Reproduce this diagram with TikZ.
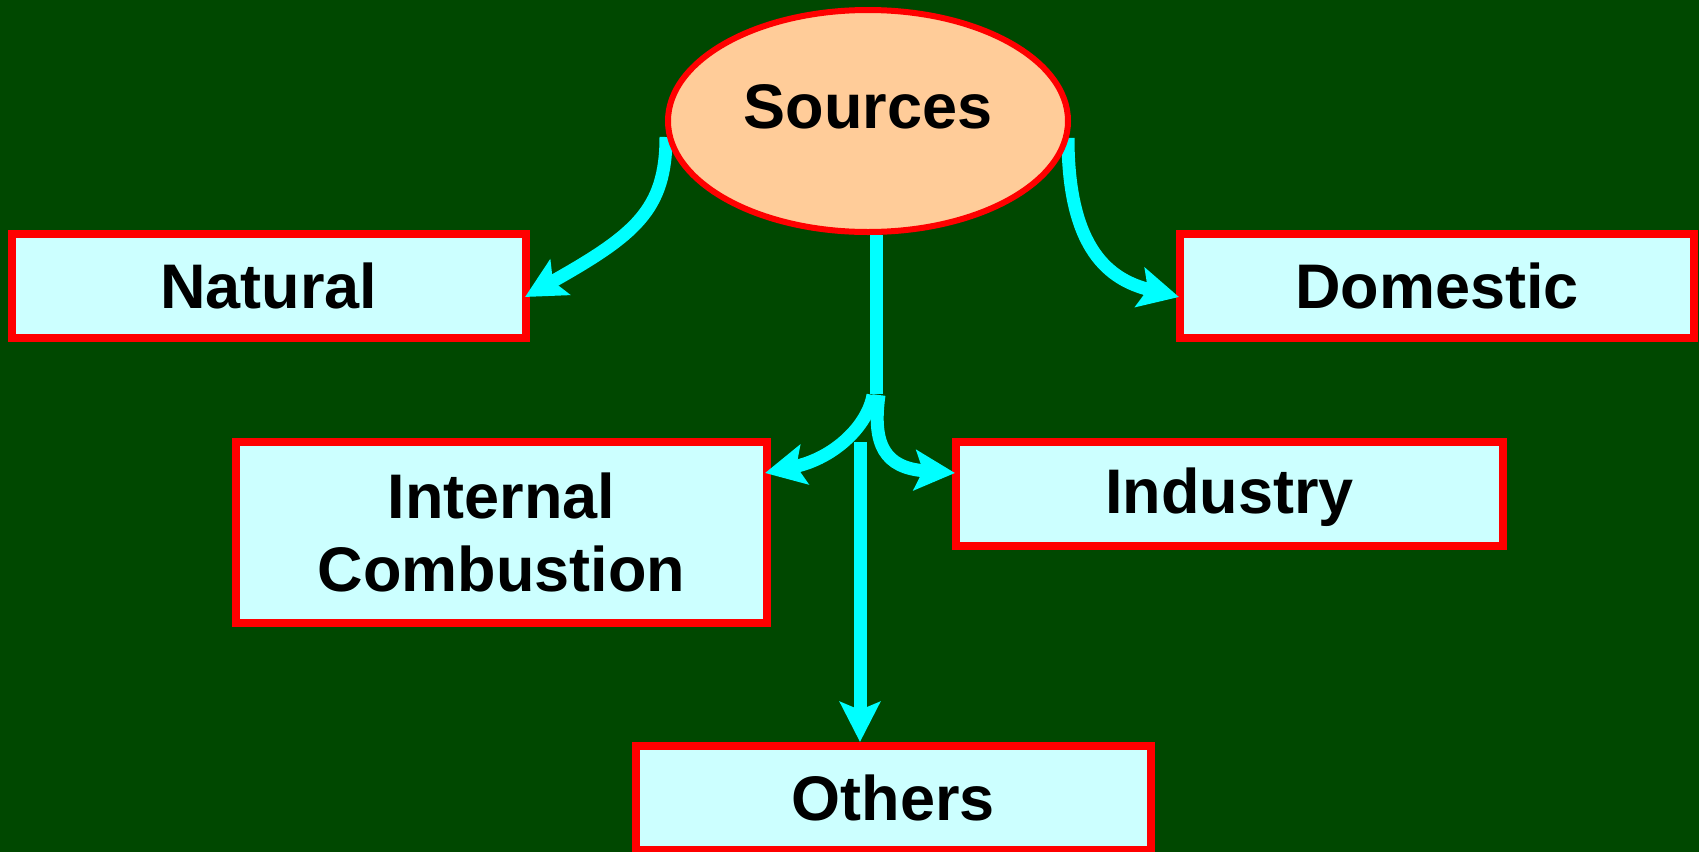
\documentclass[tikz,border=0pt]{standalone}
\usepackage{fontspec}
\setmainfont{Liberation Sans}
\usetikzlibrary{shapes.geometric,arrows.meta,calc}
\definecolor{board}{RGB}{0,72,0}
\definecolor{boxfill}{RGB}{204,255,255}
\definecolor{ovalfill}{RGB}{255,204,153}
\definecolor{flow}{RGB}{0,255,255}
\pgfdeclarelayer{bg}
\pgfdeclarelayer{front}
\pgfsetlayers{bg,main,front}
\begin{document}
\begin{tikzpicture}[x=0.5pt,y=-0.5pt,
  every node/.style={font=\fontsize{31.5}{36.5}\selectfont\bfseries, text=black},
  srcbox/.style={draw=red, line width=4pt, fill=boxfill, inner sep=0pt, align=center},
  oval/.style={ellipse, draw=red, line width=3pt, fill=ovalfill, inner sep=0pt,
    minimum width=200pt, minimum height=111pt},
  flowline/.style={draw=flow, line width=6.5pt},
  flowarrow/.style={flowline, -{Stealth[length=20pt,width=20pt,inset=4pt]}}]
  \begin{pgfonlayer}{bg}
    \fill[board] (0,0) rectangle (1699,852);
  \end{pgfonlayer}
  \useasboundingbox (0,0) rectangle (1699,852);

  % central oval, kept above the connectors
  \begin{pgfonlayer}{front}
    \node[oval] (src) at (868,121) {\raisebox{14pt}{Sources}};
  \end{pgfonlayer}

  % category boxes
  \node[srcbox, minimum width=257pt, minimum height=52pt] (natural) at (269,286) {Natural};
  \node[srcbox, minimum width=257pt, minimum height=52pt] (domestic) at (1437,286) {Domestic};
  \node[srcbox, minimum width=265.5pt, minimum height=90.5pt] (ice) at (501.5,532.5) {Internal\\Combustion};
  \node[srcbox, minimum width=273.5pt, minimum height=52pt, text depth=3pt] (industry) at (1229.5,494) {Industry};
  \node[srcbox, minimum width=257.5pt, minimum height=52pt] (others) at (893.5,798) {Others};

  % branching points of the central trunk
  \coordinate (fork) at (876,394);
  \coordinate (drop) at (860,442);

  % side connectors
  \draw[flowarrow] ($(src.west)+(1,16)$) .. controls +(0,73) and +(110,-62) .. ($(natural.east)+(-5,11)$);
  \draw[flowarrow] ($(src.east)+(-3,17)$) .. controls +(0,112) and +(-69,-17) .. ($(domestic.west)+(3,11)$);

  % trunk and its branches
  \draw[flowline] (src.south -| fork) -- (fork);
  \draw[flowarrow] (drop) -- (drop |- others.north);
  \draw[flowarrow] ($(fork)+(-3,1)$) .. controls +(-5,30) and +(70,-15) .. ($(ice.east)+(-6,-59.5)$);
  \draw[flowarrow] ($(fork)+(3,1)$) .. controls +(-7,50) and +(-70,-5) .. ($(industry.west)+(3,-21)$);
\end{tikzpicture}
\end{document}
